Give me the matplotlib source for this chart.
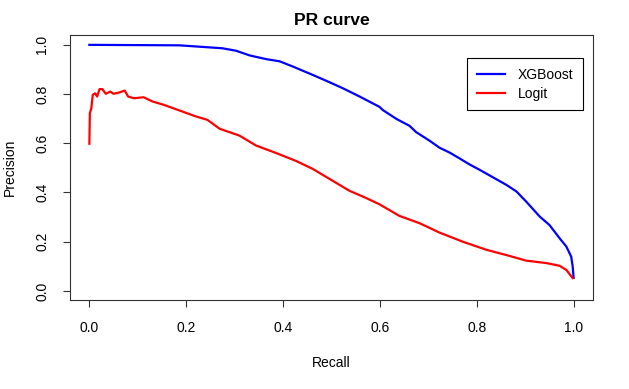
import matplotlib
matplotlib.use("Agg")
import matplotlib.pyplot as plt

plt.rcParams['font.family'] = ['Liberation Sans', 'DejaVu Sans']

xgb_recall = [0.0, 0.186, 0.275, 0.303, 0.331, 0.365, 0.393, 0.42, 0.461, 0.489,
              0.523, 0.558, 0.599, 0.606, 0.634, 0.661, 0.675, 0.702, 0.723, 0.744,
              0.764, 0.785, 0.806, 0.833, 0.861, 0.882, 0.902, 0.93, 0.95, 0.971,
              0.985, 0.995, 0.998, 1.0]
xgb_precision = [1.0, 0.998, 0.986, 0.976, 0.957, 0.942, 0.933, 0.912, 0.878, 0.854,
                 0.824, 0.79, 0.748, 0.735, 0.699, 0.671, 0.645, 0.611, 0.582, 0.562,
                 0.539, 0.514, 0.492, 0.462, 0.431, 0.404, 0.363, 0.302, 0.268, 0.214,
                 0.18, 0.139, 0.10, 0.053]

logit_recall = [0.0, 0.001, 0.004, 0.007, 0.012, 0.016, 0.021, 0.027, 0.034, 0.043,
                0.05, 0.061, 0.073, 0.08, 0.092, 0.112, 0.13, 0.154, 0.185, 0.22,
                0.244, 0.269, 0.31, 0.344, 0.386, 0.427, 0.461, 0.496, 0.537, 0.572,
                0.599, 0.64, 0.682, 0.723, 0.771, 0.82, 0.868, 0.902, 0.944, 0.971,
                0.985, 0.998]
logit_precision = [0.598, 0.722, 0.742, 0.797, 0.803, 0.79, 0.82, 0.82, 0.801, 0.81,
                   0.801, 0.806, 0.814, 0.79, 0.783, 0.787, 0.77, 0.756, 0.734, 0.709,
                   0.695, 0.659, 0.631, 0.591, 0.56, 0.528, 0.496, 0.455, 0.407, 0.377,
                   0.352, 0.305, 0.275, 0.237, 0.2, 0.167, 0.142, 0.123, 0.113, 0.102,
                   0.085, 0.052]

x_ticks = [0.0, 0.2, 0.4, 0.6, 0.8, 1.0]
y_ticks = [0.0, 0.2, 0.4, 0.6, 0.8, 1.0]
tick_labels = ["0.0", "0.2", "0.4", "0.6", "0.8", "1.0"]

fig = plt.figure(figsize=(6.29, 3.89), dpi=100)
ax = fig.add_axes([70/629, 89/389, 523/629, 265/389])

ax.plot(xgb_recall, xgb_precision, color='#0000FF', lw=1.6, label='XGBoost')
ax.plot(logit_recall, logit_precision, color='#FF0000', lw=1.6, label='Logit')

ax.set_xlim(-0.04, 1.04)
ax.set_ylim(-0.037, 1.04)
ax.set_xticks(x_ticks)
ax.set_xticklabels(tick_labels)
ax.set_yticks(y_ticks)
ax.set_yticklabels(tick_labels, rotation=90, va='center')
ax.tick_params(axis='both', direction='out', length=5, width=0.8, labelsize=10,
               color='#333333')
ax.tick_params(axis='x', pad=10)
ax.tick_params(axis='y', pad=10)
for s in ax.spines.values():
    s.set_color('#333333')
    s.set_linewidth(0.8)

ax.set_title('PR curve', fontsize=12.6, fontweight='bold', pad=7)
ax.set_xlabel('Recall', fontsize=10, labelpad=15)
ax.set_ylabel('Precision', fontsize=10, labelpad=13)

leg = ax.legend(loc='upper right', bbox_to_anchor=(0.981, 0.913), fontsize=10,
                fancybox=False, edgecolor='black', framealpha=1, handlelength=2.0,
                handletextpad=0.95, labelspacing=0.35, borderpad=0.7, borderaxespad=0)
leg.get_frame().set_linewidth(0.8)

fig.savefig('out.png', dpi=100)
